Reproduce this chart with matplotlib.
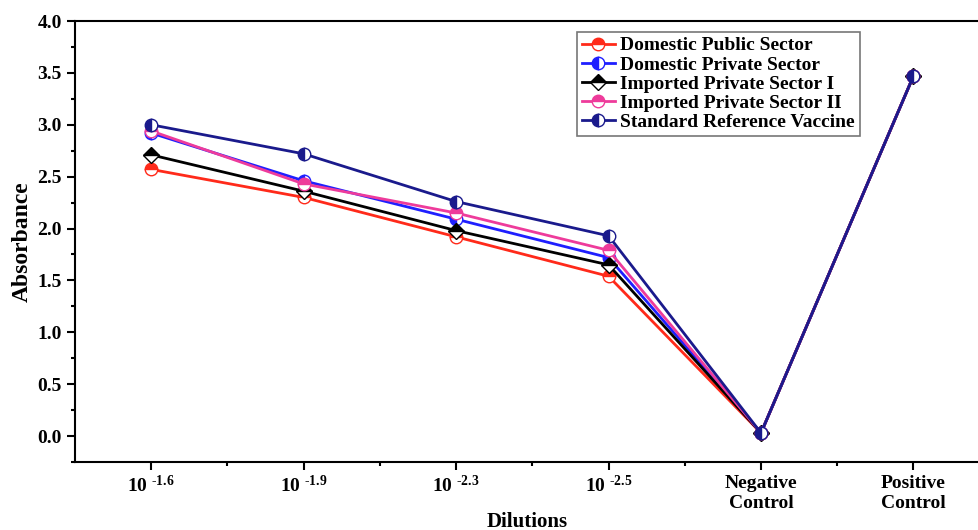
import matplotlib
matplotlib.use('Agg')
import matplotlib.pyplot as plt
from matplotlib.ticker import MultipleLocator

plt.rcParams['font.family'] = ['Liberation Serif', 'DejaVu Serif']
plt.rcParams['font.weight'] = 'bold'
plt.rcParams['mathtext.fontset'] = 'custom'
plt.rcParams['mathtext.rm'] = 'Liberation Serif:bold'
plt.rcParams['mathtext.bf'] = 'Liberation Serif:bold'

categories = [r'$\mathbf{10^{\ \text{-}1.6}}$', r'$\mathbf{10^{\ \text{-}1.9}}$', r'$\mathbf{10^{\ \text{-}2.3}}$',
              r'$\mathbf{10^{\ \text{-}2.5}}$', 'Negative\nControl', 'Positive\nControl']

dom_public = [2.57, 2.30, 1.92, 1.54, 0.03, 3.47]
dom_private = [2.92, 2.46, 2.09, 1.72, 0.03, 3.47]
imp_private_1 = [2.71, 2.36, 1.98, 1.65, 0.03, 3.47]
imp_private_2 = [2.94, 2.43, 2.15, 1.79, 0.03, 3.47]
std_ref = [3.00, 2.72, 2.26, 1.93, 0.03, 3.47]

series = [
    ('Domestic Public Sector', dom_public, '#ff2a1a', 'o', 'top'),
    ('Domestic Private Sector', dom_private, '#1f1fff', 'o', 'left'),
    ('Imported Private Sector I', imp_private_1, '#000000', 'D', 'top'),
    ('Imported Private Sector II', imp_private_2, '#ee3b9b', 'o', 'top'),
    ('Standard Reference Vaccine', std_ref, '#1a1a8c', 'o', 'left'),
]

fig = plt.figure(figsize=(9.79, 5.30), dpi=100)
ax = fig.add_axes([75 / 979, 1 - 462 / 530, 1 - 75 / 979, (462 - 21) / 530])

x = list(range(len(categories)))
for name, vals, col, mk, fs in series:
    ax.plot(x, vals, color=col, lw=2, marker=mk, fillstyle=fs,
            markersize=9 if mk == 'o' else 8, markerfacecoloralt='white',
            markeredgecolor=col, markeredgewidth=1, label=name)

ax.set_xlim(-0.5, 5.43)
ax.set_ylim(-0.25, 4.0)
ax.yaxis.set_minor_locator(MultipleLocator(0.25))
yt = [0, 0.5, 1, 1.5, 2, 2.5, 3, 3.5, 4]
ax.set_yticks(yt)
ax.set_yticklabels(['%.1f' % v for v in yt])
ax.set_xticks(x)
ax.set_xticklabels(categories)
ax.set_xticks([i + 0.5 for i in x[:-1]], minor=True)
ax.tick_params(axis='both', which='major', direction='out', length=6, width=1.5, labelsize=14)
ax.tick_params(axis='both', which='minor', direction='out', length=3, width=1.5)
ax.spines['right'].set_visible(False)
for s in ['left', 'bottom', 'top']:
    ax.spines[s].set_linewidth(1.5)

ax.set_ylabel('Absorbance', fontsize=17, fontweight='bold', labelpad=3)
ax.set_xlabel('Dilutions', fontsize=15, fontweight='bold', labelpad=0)

leg = ax.legend(loc='upper left', bbox_to_anchor=(0.555, 0.975), borderaxespad=0,
                fontsize=14, frameon=True, fancybox=False, edgecolor='#555555',
                handlelength=1.7, handletextpad=0.3, borderpad=0.25, labelspacing=0.08)
leg.get_frame().set_linewidth(1.2)

fig.savefig('out.png', dpi=100)
